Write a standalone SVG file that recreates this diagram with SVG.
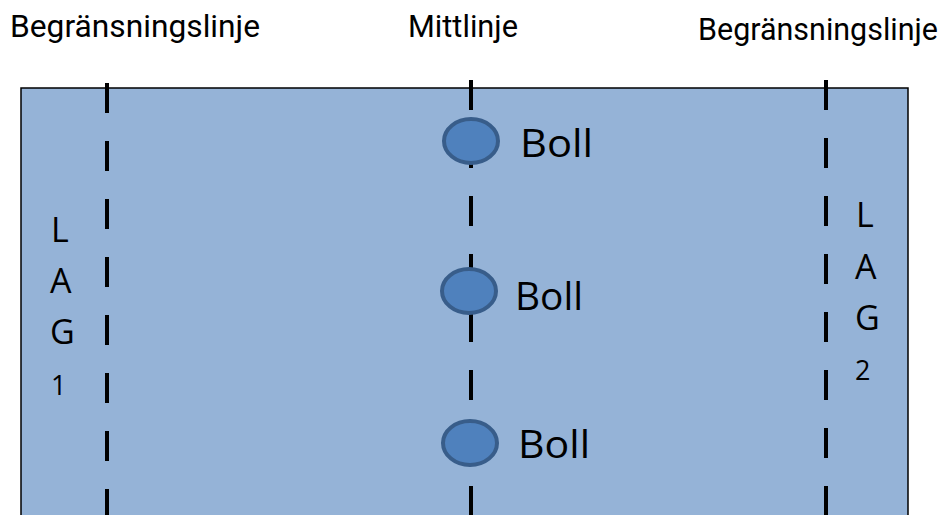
<svg xmlns="http://www.w3.org/2000/svg" width="946" height="515" viewBox="0 0 946 515">
<style>
.lbl{font-family:Roboto,"Liberation Sans",sans-serif;font-size:31px;fill:#000}
.cal{font-family:"Open Sans","Liberation Sans",sans-serif;fill:#000}
.dash{stroke:#000;stroke-width:4;stroke-dasharray:30 28;fill:none}
.ball{fill:#4F81BD;stroke:#385D8A;stroke-width:4}
</style>
<rect width="946" height="515" fill="#fff"/>
<g id="field">
<path d="M21 520 V88 H908 V520" fill="#95B3D7" stroke="#000" stroke-width="1.5"/>
</g>
<g id="connectors">
<line class="dash" x1="107" y1="83" x2="107" y2="520"/>
<line class="dash" x1="471" y1="80" x2="471" y2="520"/>
<line class="dash" x1="826" y1="80" x2="826" y2="520"/>
</g>
<g id="labels">
<text class="lbl" x="10" y="37" textLength="250" lengthAdjust="spacingAndGlyphs">Begränsningslinje</text>
<text class="lbl" x="408" y="37" textLength="110" lengthAdjust="spacingAndGlyphs">Mittlinje</text>
<text class="lbl" x="698" y="40" textLength="240" lengthAdjust="spacingAndGlyphs">Begränsningslinje</text>
</g>
<g id="ball1">
<ellipse class="ball" cx="471" cy="141" rx="27" ry="22"/>
<text class="cal" x="520" y="157" font-size="38" textLength="73" lengthAdjust="spacingAndGlyphs">Boll</text>
</g>
<g id="ball2">
<ellipse class="ball" cx="469" cy="291" rx="27" ry="22"/>
<text class="cal" x="515" y="310" font-size="38" textLength="68" lengthAdjust="spacingAndGlyphs">Boll</text>
</g>
<g id="ball3">
<ellipse class="ball" cx="470" cy="443" rx="27" ry="22"/>
<text class="cal" x="518" y="458" font-size="38" textLength="72" lengthAdjust="spacingAndGlyphs">Boll</text>
</g>
<g id="lag1">
<text class="cal" x="51" y="242" font-size="34">L</text>
<text class="cal" x="50" y="293" font-size="34">A</text>
<text class="cal" x="50" y="344" font-size="34">G</text>
<text class="cal" x="51" y="395" font-size="27">1</text>
</g>
<g id="lag2">
<text class="cal" x="856" y="227" font-size="34">L</text>
<text class="cal" x="855" y="279" font-size="34">A</text>
<text class="cal" x="855" y="330" font-size="34">G</text>
<text class="cal" x="855" y="380" font-size="27">2</text>
</g>
</svg>
